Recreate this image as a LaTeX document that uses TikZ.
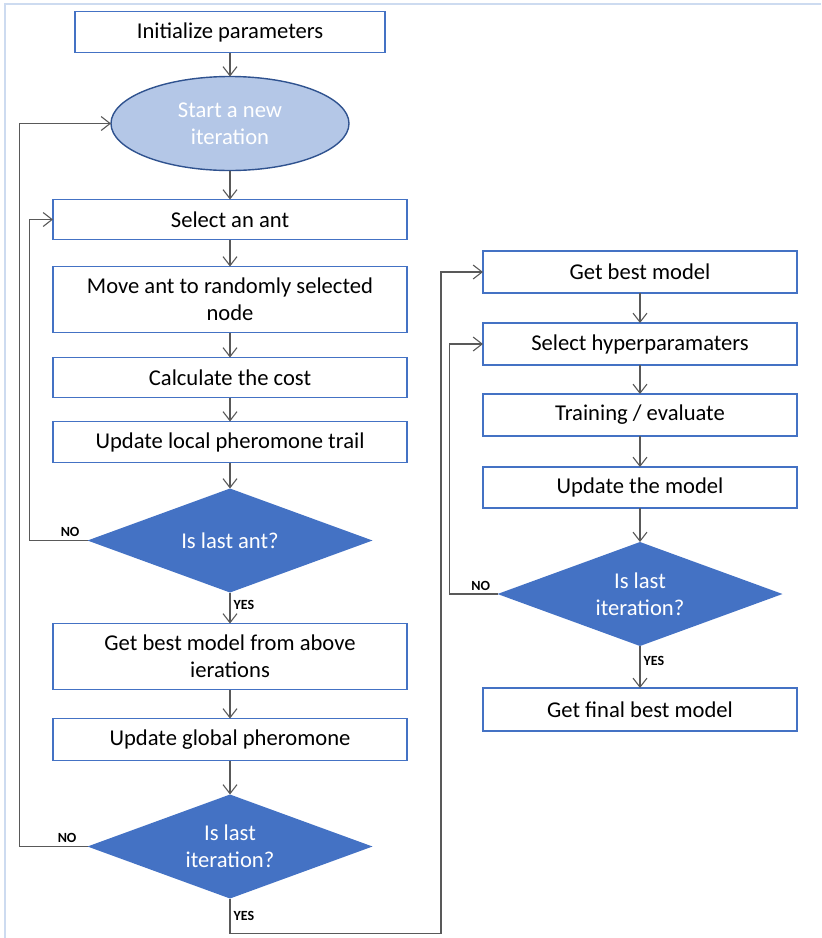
\documentclass[tikz,border=0pt]{standalone}
\usepackage{fontspec}
\setmainfont{Carlito}
\usepackage{tikz}
\usetikzlibrary{arrows.meta,positioning,shapes.geometric}
\definecolor{keret}{RGB}{68,114,196}
\definecolor{halvany}{RGB}{180,199,231}
\definecolor{sotet}{RGB}{47,82,143}
\definecolor{szurke}{RGB}{89,89,89}
\definecolor{szegely}{RGB}{205,219,240}
\tikzset{
  lepes/.style={draw=keret,line width=0.9pt,fill=white,inner sep=2pt,outer sep=0pt,align=center,
                minimum width=177pt,minimum height=20pt},
  kezd/.style={ellipse,draw=sotet,line width=0.7pt,fill=halvany,text=white,inner sep=0pt,outer sep=0pt,
               align=center,minimum width=119pt,minimum height=47pt},
  dontes/.style={diamond,fill=keret,text=white,inner sep=0pt,outer sep=0pt,aspect=2.74,align=center,
                 minimum width=142.5pt,minimum height=52pt},
  vonal/.style={draw=szurke,line width=0.55pt,-{Straight Barb[length=4.5pt,width=7pt]}},
  sima/.style={draw=szurke,line width=0.55pt},
  felirat/.style={font=\fontsize{7}{8}\selectfont\bfseries,inner sep=1.5pt,text=black},
}
\begin{document}
\begin{tikzpicture}[x=0.5pt,y=-0.5pt,font=\fontsize{11.3}{13.5}\selectfont]
  \useasboundingbox (0,0) rectangle (821,938);
  \draw[szegely,line width=0.8pt] (5,938) -- (5,4) -- (821,4);
  % bal oszlop
  \node[lepes,minimum width=155pt,minimum height=20.5pt] (init) at (230,32) {Initialize parameters};
  \node[kezd,below=12pt of init] (ujiter) {Start a new\\iteration};
  \node[lepes,below=14.5pt of ujiter] (hangya) {Select an ant};
  \node[lepes,minimum height=33pt,below=13.5pt of hangya] (mozgat) {Move ant to randomly selected\\node};
  \node[lepes,below=12.5pt of mozgat] (koltseg) {Calculate the cost};
  \node[lepes,minimum height=20.5pt,below=12pt of koltseg] (lokal) {Update local pheromone trail};
  \node[dontes,below=13pt of lokal] (utolsohangya) {Is last ant?};
  \node[lepes,minimum height=33pt,below=15.5pt of utolsohangya] (legjobb) {Get best model from above\\ierations};
  \node[lepes,minimum height=21pt,below=14.5pt of legjobb] (global) {Update global pheromone};
  \node[dontes,below=17pt of global] (utolsoiter) {Is last\\iteration?};
  % jobb oszlop
  \node[lepes,minimum width=157pt,minimum height=21pt] (modell) at (640,272) {Get best model};
  \node[lepes,minimum width=157pt,minimum height=21pt,below=15pt of modell] (hiper) {Select hyperparamaters};
  \node[lepes,minimum width=157pt,minimum height=21pt,below=14.5pt of hiper] (tanit) {Training / evaluate};
  \node[lepes,minimum width=157pt,minimum height=20.5pt,below=15.5pt of tanit] (frissit) {Update the model};
  \node[dontes,below=17pt of frissit] (utolsoiter2) {Is last\\iteration?};
  \node[lepes,minimum width=157pt,minimum height=21.5pt,below=21pt of utolsoiter2] (vegso) {Get final best model};
  % nyilak
  \draw[vonal] (init) -- (ujiter);
  \draw[vonal] (ujiter) -- (hangya);
  \draw[vonal] (hangya) -- (mozgat);
  \draw[vonal] (mozgat) -- (koltseg);
  \draw[vonal] (koltseg) -- (lokal);
  \draw[vonal] (lokal) -- (utolsohangya);
  \draw[vonal] (utolsohangya) -- node[felirat,right,pos=0.4] {YES} (legjobb);
  \draw[vonal] (legjobb) -- (global);
  \draw[vonal] (global) -- (utolsoiter);
  \draw[vonal] (utolsohangya.west) -- node[felirat,above,pos=0.3] {NO} ++(-58,0) |- (hangya.west);
  \draw[vonal] (utolsoiter.west) -- node[felirat,above,pos=0.3] {NO} ++(-68,0) |- (ujiter.west);
  \draw[sima] (utolsoiter.south) -- node[felirat,right,pos=0.5] {YES} ++(0,35) -- ++(211,0);
  \draw[vonal] (utolsoiter.south) ++(211,35) |- (modell.west);
  \draw[vonal] (modell) -- (hiper);
  \draw[vonal] (hiper) -- (tanit);
  \draw[vonal] (tanit) -- (frissit);
  \draw[vonal] (frissit) -- (utolsoiter2);
  \draw[vonal] (utolsoiter2) -- node[felirat,right,pos=0.35] {YES} (vegso);
  \draw[vonal] (utolsoiter2.west) -- node[felirat,above,pos=0.35] {NO} ++(-48,0) |- (hiper.west);
\end{tikzpicture}
\end{document}
